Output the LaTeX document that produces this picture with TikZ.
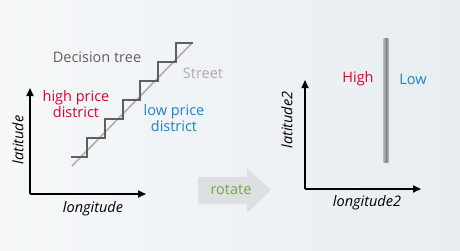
\documentclass[tikz,border=0pt]{standalone}
\usepackage{fontspec}
\setmainfont{Open Sans}
\usetikzlibrary{arrows.meta}

\definecolor{highred}{RGB}{226,0,42}
\definecolor{lowblue}{RGB}{30,132,200}
\definecolor{treegray}{RGB}{95,95,95}
\definecolor{streetgray}{RGB}{172,172,172}
\definecolor{rotgreen}{RGB}{112,170,70}
\definecolor{blockgray}{RGB}{221,223,224}
\definecolor{bgleft}{RGB}{246,248,249}
\definecolor{bgright}{RGB}{231,237,241}

\begin{document}
\begin{tikzpicture}[x=1pt, y=-1pt]
        \tikzstyle{every node}=[inner sep=0pt, font=\fontsize{14.5}{16}\selectfont]
        \tikzstyle{axis}=[black, line width=1.6pt, -{Triangle[length=8pt, width=7pt]}]
        \tikzstyle{axislabel}=[font=\fontsize{14.5}{16}\selectfont\itshape]
        \tikzstyle{stairs}=[draw=treegray, line width=2.4pt, line join=miter]

        % backdrop
        \shade[left color=bgleft, right color=bgright] (0,0) rectangle (460,250);

        % first plot: street and the tree's staircase boundary
        \coordinate (o1) at (30,194);
        \draw[axis] (o1) -- (30,88);
        \draw[axis] (o1) -- (146,194);
        \node[axislabel, rotate=90] (lat) at (18,140) {latitude};
        \node[axislabel] (lon) at (93,209) {longitude};

        \draw[streetgray, line width=1.5pt] (72,166) -- (192,43);
        \draw[stairs] (71,157) -- (87,157) -- (87,138) -- (105,138) -- (105,119) -- (123,119)
            -- (123,100) -- (140,100) -- (140,81) -- (158,81) -- (158,62) -- (176,62)
            -- (176,43) -- (193,43);

        \node[text=treegray] (tree) at (97,57) {Decision tree};
        \node[text=streetgray] (street) at (203,73) {Street};
        \node[text=highred, align=center] (high) at (76,104) {high price\\district};
        \node[text=lowblue, align=center] (low) at (174,118) {low price\\district};

        % block arrow
        \fill[blockgray] (198,177) -- (247,177) -- (247,168) -- (271,190) -- (247,213)
            -- (247,204) -- (198,204) -- cycle;
        \node[text=rotgreen] (rot) at (231,190) {rotate};

        % second plot after rotation
        \coordinate (o2) at (305,189);
        \draw[axis] (o2) -- (305,80);
        \draw[axis] (o2) -- (421,189);
        \node[axislabel, rotate=90] (lat2) at (287,120) {latitude2};
        \node[axislabel] (lon2) at (367,203) {longitude2};

        \shade[left color=gray!60, right color=gray!60, middle color=gray!95] (383.5,38) rectangle (388.5,162);
        \node[text=highred] (h2) at (358,79) {High};
        \node[text=lowblue] (l2) at (413,79) {Low};
\end{tikzpicture}
\end{document}
